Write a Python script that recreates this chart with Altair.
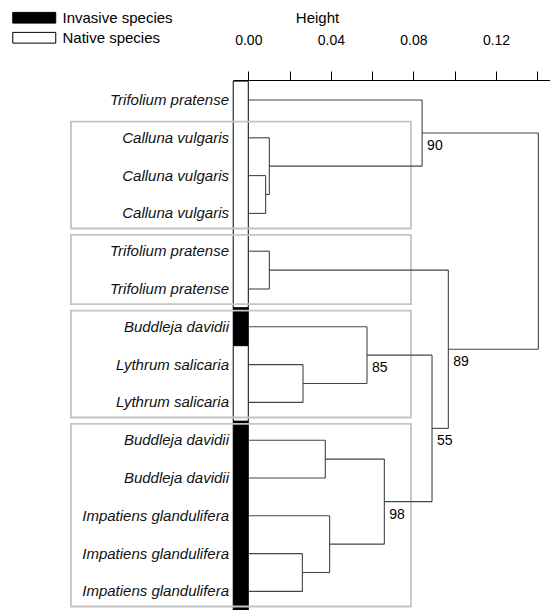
import altair as alt
import pandas as pd

# ---- data ----
leaf_names = ["Trifolium pratense", "Calluna vulgaris", "Calluna vulgaris", "Calluna vulgaris",
              "Trifolium pratense", "Trifolium pratense", "Buddleja davidii", "Lythrum salicaria",
              "Lythrum salicaria", "Buddleja davidii", "Buddleja davidii", "Impatiens glandulifera",
              "Impatiens glandulifera", "Impatiens glandulifera"]
leaf_status = ["Native species"] * 6 + ["Invasive species"] + ["Native species"] * 2 + ["Invasive species"] * 5

# merges: children ids (leaves 0-13, merged nodes 14+), height, bootstrap support
merge_left = [2, 1, 0, 4, 7, 6, 9, 12, 11, 20, 19, 17, 16]
merge_right = [3, 14, 15, 5, 8, 18, 10, 13, 21, 22, 23, 24, 25]
merge_height = [0.0084, 0.0102, 0.0842, 0.0102, 0.0265, 0.0575, 0.0373, 0.0262, 0.0394,
                0.0659, 0.0890, 0.0969, 0.1405]
merge_support = ["", "", "90", "", "", "85", "", "", "", "98", "55", "89", ""]

# grey boxes around groups of leaves (first leaf, last leaf)
box_first = [1, 4, 6, 9]
box_last = [3, 5, 8, 13]

tick_values = [0.00, 0.02, 0.04, 0.06, 0.08, 0.10, 0.12, 0.14]
status_order = ["Invasive species", "Native species"]

# ---- build tables ----
n_leaf = len(leaf_names)
node_y = {i: float(i) for i in range(n_leaf)}
node_h = {i: 0.0 for i in range(n_leaf)}
segs = []
sup_rows = []
for k, (a, b, h) in enumerate(zip(merge_left, merge_right, merge_height)):
    nid = n_leaf + k
    ya, yb = node_y[a], node_y[b]
    segs.append({"x": node_h[a], "x2": h, "y": ya, "y2": ya})
    segs.append({"x": node_h[b], "x2": h, "y": yb, "y2": yb})
    segs.append({"x": h, "x2": h, "y": ya, "y2": yb})
    node_y[nid] = (ya + yb) / 2
    node_h[nid] = h
    if merge_support[k]:
        sup_rows.append({"x": h, "y": node_y[nid], "label": merge_support[k]})

seg_df = pd.DataFrame(segs)
sup_df = pd.DataFrame(sup_rows)
leaf_df = pd.DataFrame({"idx": list(range(n_leaf)), "name": leaf_names, "status": leaf_status})

# contiguous runs of the same status form the bar segments
runs = []
start = 0
for i in range(1, n_leaf + 1):
    if i == n_leaf or leaf_status[i] != leaf_status[start]:
        runs.append({"status": leaf_status[start], "y1": start - 0.5, "y2": i - 0.5})
        start = i
run_df = pd.DataFrame(runs)

box_df = pd.DataFrame({"y1": [f - 0.43 for f in box_first], "y2": [l + 0.40 for l in box_last]})

xscale = alt.Scale(domain=[-0.00741, 0.14615], nice=False, zero=False)
yscale = alt.Scale(domain=[-0.529, 13.492], nice=False, zero=False, reverse=True)

label_expr = ("abs(datum.value / 0.04 - round(datum.value / 0.04)) < 0.001 ? "
              "format(datum.value, '.2f') : ''")

bar = alt.Chart(run_df).mark_rect(stroke="black", strokeWidth=1).encode(
    x=alt.X("bx:Q", scale=xscale,
            axis=alt.Axis(orient="top", values=tick_values, labelExpr=label_expr,
                          title="Height", titleFontSize=15, titleFontWeight="normal",
                          titleX=84, titleY=-63, titleAlign="center", titleBaseline="middle",
                          titleColor="black",
                          tickSize=9, tickColor="black", domainColor="black",
                          labelFontSize=14, labelColor="black", labelPadding=31,
                          labelBaseline="middle", labelFlush=False, grid=False)),
    x2="bx2:Q",
    y=alt.Y("y1:Q", scale=yscale, axis=None),
    y2="y2:Q",
    fill=alt.Fill("status:N", scale=alt.Scale(domain=status_order, range=["black", "white"]),
                  legend=alt.Legend(title=None, orient="none", legendX=-210.25, legendY=-73.75,
                                    symbolType="M-2,-0.5H2V0.5H-2Z", symbolSize=462,
                                    symbolStrokeColor="black", symbolStrokeWidth=1,
                                    labelFontSize=15, labelColor="black", labelOffset=16.75,
                                    rowPadding=0, padding=0)),
).transform_calculate(bx="-0.0073", bx2="0")

boxes = alt.Chart(box_df).mark_rect(fill=None, stroke="#c4c4c4", strokeWidth=1.8).encode(
    x=alt.datum(-0.0859, scale=xscale),
    x2=alt.datum(0.0788),
    y=alt.Y("y1:Q", scale=yscale),
    y2="y2:Q",
)

lines = alt.Chart(seg_df).mark_rule(color="#444444", strokeWidth=1.1).encode(
    x=alt.X("x:Q", scale=xscale), x2="x2:Q",
    y=alt.Y("y:Q", scale=yscale), y2="y2:Q",
)

labels = alt.Chart(leaf_df).mark_text(align="right", baseline="middle", fontSize=15,
                                      fontStyle="italic", color="#111111").encode(
    x=alt.datum(-0.00935, scale=xscale),
    y=alt.Y("idx:Q", scale=yscale),
    text="name:N",
)

support = alt.Chart(sup_df).mark_text(align="left", baseline="middle", fontSize=14,
                                      dx=5, dy=13, color="black").encode(
    x=alt.X("x:Q", scale=xscale),
    y=alt.Y("y:Q", scale=yscale),
    text="label:N",
)

chart = alt.layer(bar, boxes, lines, labels, support).properties(
    width=317, height=530,
    autosize="none",
    padding={"left": 233, "top": 80, "right": 0, "bottom": 0},
).configure_view(stroke=None).configure(font="Liberation Sans")

chart.save("out.html", embed_options={"renderer": "svg", "actions": False})
